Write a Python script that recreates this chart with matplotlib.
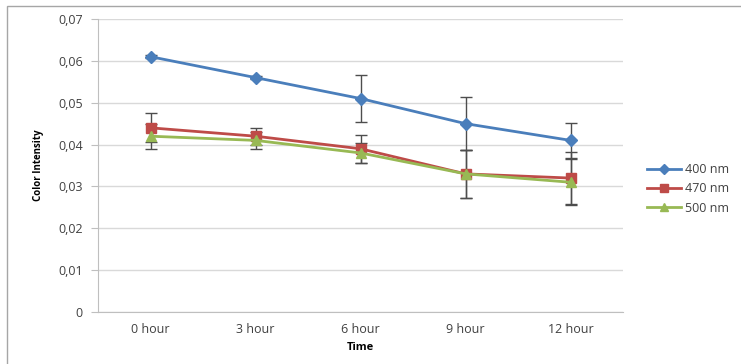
import matplotlib.pyplot as plt
from matplotlib.patches import Rectangle
from matplotlib.lines import Line2D
from matplotlib.ticker import FuncFormatter

# time points and colour intensity per wavelength
times = ['0 hour', '3 hour', '6 hour', '9 hour', '12 hour']
series = ['400 nm', '470 nm', '500 nm']

nm400 = [0.061, 0.056, 0.051, 0.045, 0.041]
nm470 = [0.044, 0.042, 0.039, 0.033, 0.032]
nm500 = [0.042, 0.041, 0.038, 0.033, 0.031]

# standard deviations (error bars)
err400 = [0.0003, 0.0003, 0.0057, 0.0063, 0.0042]
err470 = [0.0035, 0.0020, 0.0033, 0.0057, 0.0063]
err500 = [0.0030, 0.0020, 0.0024, 0.0057, 0.0055]

plt.rcParams['font.family'] = ['Open Sans', 'DejaVu Sans']

fig = plt.figure(figsize=(7.41, 3.64), dpi=100)
ax = fig.add_axes([98 / 741, 1 - 312 / 364, 525 / 741, 293 / 364])

# outer chart frame
fig.patches.append(Rectangle((7 / 741, -0.1), 1.2, 1.1 - 6 / 364,
                             transform=fig.transFigure, fill=False,
                             edgecolor='#a6a6a6', linewidth=1.0))

x = list(range(len(times)))
styles = [
    (nm400, err400, '#4a7ebb', 'D', 6),
    (nm470, err470, '#be4b48', 's', 7),
    (nm500, err500, '#98b954', '^', 7),
]
handles = []
for (y, e, c, m, ms), name in zip(styles, series):
    ax.errorbar(x, y, yerr=e, color=c, marker=m, markersize=ms, linewidth=2,
                ecolor='#4d4d4d', elinewidth=1, capsize=4, capthick=1,
                zorder=3)
    handles.append(Line2D([], [], color=c, marker=m, markersize=ms * 0.8,
                          linewidth=2, label=name))

ax.set_xlim(-0.5, len(times) - 0.5)
ax.set_ylim(0, 0.07)
ax.set_yticks([i / 100 for i in range(8)])
ax.yaxis.set_major_formatter(FuncFormatter(
    lambda v, p: '0' if v == 0 else ('%.2f' % v).replace('.', ',')))
ax.set_xticks(x)
ax.set_xticklabels(times)

ax.grid(axis='y', color='#d9d9d9', linewidth=1)
ax.set_axisbelow(True)
for s in ['top', 'right']:
    ax.spines[s].set_visible(False)
ax.spines['left'].set_color('#bfbfbf')
ax.spines['bottom'].set_color('#bfbfbf')
ax.tick_params(axis='y', length=5, color='#bfbfbf', labelsize=9,
               labelcolor='#404040', pad=6)
ax.tick_params(axis='x', length=0, labelsize=9, labelcolor='#404040', pad=8)

ax.set_ylabel('Color Intensity', fontsize=7, fontweight='bold', labelpad=10)
ax.set_xlabel('Time', fontsize=8, fontweight='bold', labelpad=4)

leg = ax.legend(handles=handles, loc='center left', bbox_to_anchor=(1.025, 0.42),
                frameon=False, fontsize=9, handlelength=2.7, labelspacing=0.5,
                handletextpad=0.3)
for t in leg.get_texts():
    t.set_color('#404040')

fig.savefig('out.png', dpi=100)
